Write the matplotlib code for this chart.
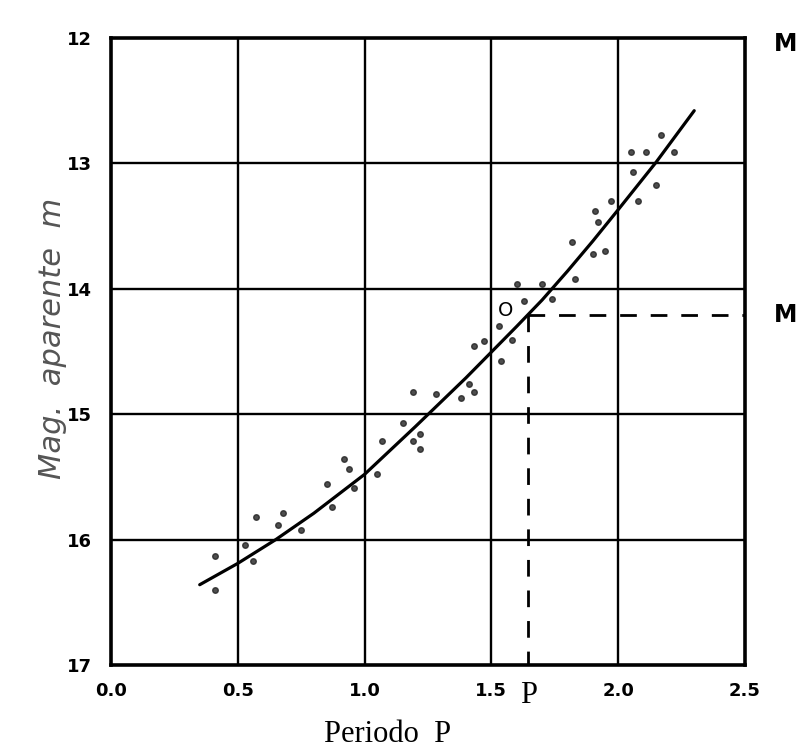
import numpy as np
import matplotlib
matplotlib.use("Agg")
import matplotlib.pyplot as plt

# stars: period P and apparent magnitude m
periodo = [0.41, 0.41, 0.57, 0.68, 0.66, 0.56, 0.53, 0.75, 0.87, 0.96,
           0.85, 0.92, 0.94, 1.05, 1.07, 1.15, 1.19, 1.22, 1.22, 1.38,
           1.19, 1.28, 1.41, 1.43, 1.47, 1.43, 1.54, 1.58, 1.53, 1.60,
           1.70, 1.83, 1.82, 1.90, 1.95, 1.92, 1.91, 1.97, 2.08, 1.74,
           1.63, 2.05, 2.11, 2.17, 2.22, 2.06, 2.15]
magnitud = [16.13, 16.40, 15.82, 15.79, 15.88, 16.17, 16.04, 15.92, 15.74, 15.59,
            15.56, 15.36, 15.44, 15.48, 15.21, 15.07, 15.21, 15.16, 15.28, 14.87,
            14.82, 14.84, 14.76, 14.82, 14.42, 14.46, 14.58, 14.41, 14.30, 13.96,
            13.96, 13.92, 13.63, 13.72, 13.70, 13.47, 13.38, 13.30, 13.30, 14.08,
            14.10, 12.91, 12.91, 12.77, 12.91, 13.07, 13.17]

# hand-drawn mean curve
curva_p = [0.35, 0.5, 0.65, 0.8, 1.0, 1.2, 1.4, 1.6, 1.7, 1.8, 1.9, 2.0, 2.15, 2.3]
curva_m = [16.36, 16.19, 16.00, 15.79, 15.48, 15.10, 14.71, 14.30, 14.09, 13.86, 13.62,
           13.37, 12.99, 12.58]

# reading point O -> P, M
p_lectura = 1.645
m_lectura = 14.21

xticks = [0.0, 0.5, 1.0, 1.5, 2.0, 2.5]
xtick_labels = ["0.0", "0.5", "1.0", "1.5", "2.0", "2.5"]
yticks = [12, 13, 14, 15, 16, 17]
ytick_labels = ["12", "13", "14", "15", "16", "17"]

fig = plt.figure(figsize=(8.07, 7.53), dpi=100)
ax = fig.add_axes([0.1375, 0.1169, 0.7856, 0.8327])

ax.set_xlim(0, 2.5)
ax.set_ylim(17, 12)

for x in xticks[1:-1]:
    ax.axvline(x, color="black", lw=1.7, zorder=1)
for y in yticks[1:-1]:
    ax.axhline(y, color="black", lw=1.7, zorder=1)

ax.plot(curva_p, curva_m, color="black", lw=2.3, solid_capstyle="round", zorder=3)
ax.plot(periodo, magnitud, "o", color="#222222", ms=4, alpha=0.8, zorder=2)

# dashed reading lines
ax.plot([p_lectura, p_lectura], [m_lectura, 17], color="black", lw=2,
        dashes=(6, 5), zorder=3)
ax.plot([p_lectura, 2.5], [m_lectura, m_lectura], color="black", lw=2,
        dashes=(6, 5), zorder=3)

ax.text(1.555, 14.17, "O", fontsize=14, ha="center", va="center")

for s in ax.spines.values():
    s.set_linewidth(2.6)

ax.set_xticks(xticks)
ax.set_xticklabels(xtick_labels, fontsize=13, fontweight="bold")
ax.set_yticks(yticks)
ax.set_yticklabels(ytick_labels, fontsize=13, fontweight="bold")
ax.tick_params(length=0, pad=12)
ax.tick_params(axis="y", pad=14)

ax.text(p_lectura, -0.026, "P", transform=ax.get_xaxis_transform(), fontsize=22,
        family="Liberation Serif", ha="center", va="top")
ax.text(1.045, m_lectura, "M", transform=ax.get_yaxis_transform(),
        fontsize=17, fontweight="bold", ha="left", va="center")
ax.text(1.045, 0.99, "M", transform=ax.transAxes, fontsize=17,
        fontweight="bold", ha="left", va="center")

fig.text(0.48, 0.024, "Periodo  P", fontsize=22, family="Liberation Serif",
         ha="center", va="center")
fig.text(0.065, 0.55, "Mag.  aparente  m", rotation=90, fontsize=22, style="italic",
         color="#555555", ha="center", va="center")

fig.savefig("out.png", dpi=100)
